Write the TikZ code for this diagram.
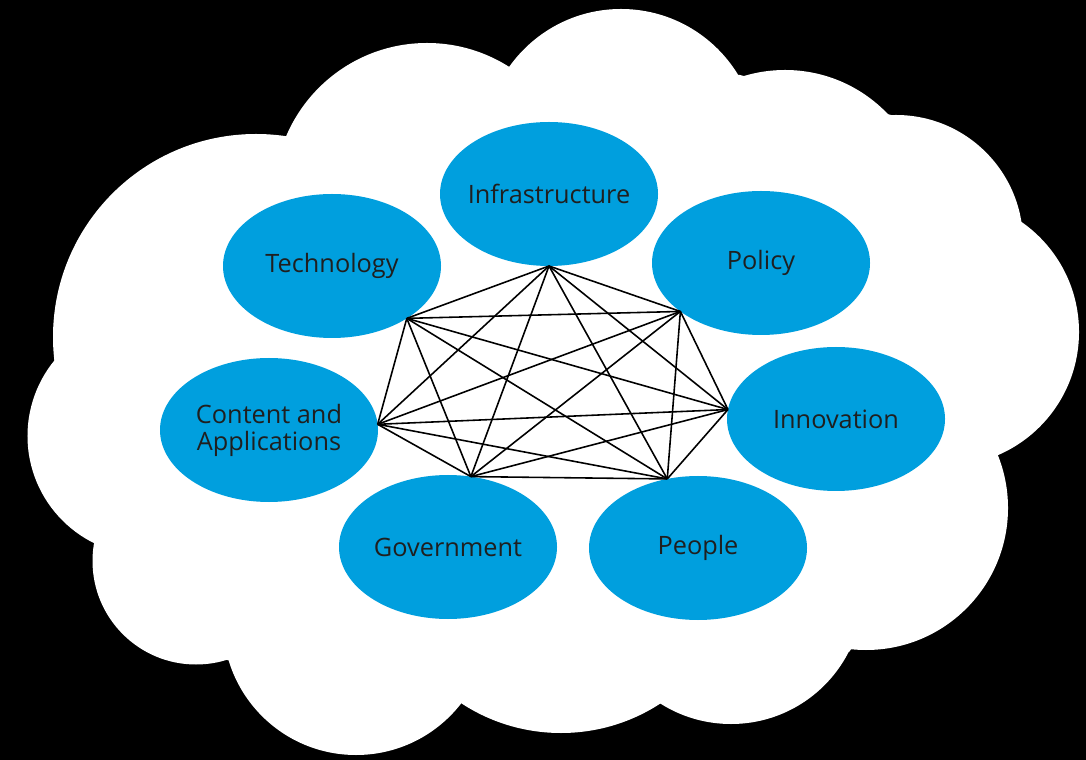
\documentclass[tikz,border=0pt]{standalone}
\usepackage{fontspec}
\setmainfont{Open Sans}
\usetikzlibrary{shapes.geometric}
\definecolor{bubblecolor}{RGB}{0,159,222}
\newcommand{\linkcolor}{black}
\newcommand{\thinline}{0.45pt}
\tikzset{bubble/.style={ellipse, fill=bubblecolor, minimum width=2.18cm, minimum height=1.44cm,
  inner xsep=-2pt, inner ysep=0pt, outer sep=0pt, align=center, text=black!88,
  font=\fontsize{7.2}{7.7}\selectfont}}

\begin{document}
\begin{tikzpicture}
\useasboundingbox (0,0) rectangle (10.86,-7.6);
\fill[black] (0,0) rectangle (10.86,-7.6);
%cloud
\fill[white] (2.86,-1.37) -- (5.11,-0.68) -- (7.40,-0.75) -- (8.91,-1.15) -- (10.21,-2.20) -- (9.95,-4.57)
  -- (8.49,-6.52) -- (6.59,-7.03) -- (4.62,-7.03) -- (2.27,-6.60) -- (0.95,-5.40) -- (0.57,-3.62) -- cycle;
\fill[white] (4.27,-1.96) circle (1.53);
\fill[white] (6.21,-1.46) circle (1.37);
\fill[white] (7.85,-2.12) circle (1.42);
\fill[white] (8.96,-2.42) circle (1.27);
\fill[white] (9.45,-3.32) circle (1.34);
\fill[white] (8.66,-5.08) circle (1.42);
\fill[white] (7.31,-5.92) circle (1.32);
\fill[white] (5.61,-5.51) circle (1.82);
\fill[white] (3.56,-6.22) circle (1.33);
\fill[white] (1.96,-5.61) circle (1.035);
\fill[white] (1.47,-4.36) circle (1.195);
\fill[white] (2.56,-3.37) circle (2.03);
%bubbles
\node[bubble] (1) at (5.49, -1.94) {Infrastructure};
\node[bubble] (2) at (7.61, -2.63) {Policy};
\node[bubble] (3) at (8.36, -4.19) {Innovation};
\node[bubble] (4) at (6.98, -5.48) {People};
\node[bubble] (5) at (4.48, -5.47) {Government};
\node[bubble] (6) at (2.69, -4.30) {Content and\\Applications};
\node[bubble] (7) at (3.32, -2.66) {Technology};
%links
\draw[\linkcolor] [line width = \thinline] (1.south) -- (2.211);
\draw[\linkcolor] [line width = \thinline] (1.south) -- (3.175);
\draw[\linkcolor] [line width = \thinline] (1.south) -- (4.114);
\draw[\linkcolor] [line width = \thinline] (1.south) -- (5.72);
\draw[\linkcolor] [line width = \thinline] (1.south) -- (6.3);
\draw[\linkcolor] [line width = \thinline] (1.south) -- (7.-35);
\draw[\linkcolor] [line width = \thinline] (2.211) -- (3.175);
\draw[\linkcolor] [line width = \thinline] (2.211) -- (4.114);
\draw[\linkcolor] [line width = \thinline] (2.211) -- (5.72);
\draw[\linkcolor] [line width = \thinline] (2.211) -- (6.3);
\draw[\linkcolor] [line width = \thinline] (2.211) -- (7.-35);
\draw[\linkcolor] [line width = \thinline] (3.175) -- (4.114);
\draw[\linkcolor] [line width = \thinline] (3.175) -- (5.72);
\draw[\linkcolor] [line width = \thinline] (3.175) -- (6.3);
\draw[\linkcolor] [line width = \thinline] (3.175) -- (7.-35);
\draw[\linkcolor] [line width = \thinline] (4.114) -- (5.72);
\draw[\linkcolor] [line width = \thinline] (4.114) -- (6.3);
\draw[\linkcolor] [line width = \thinline] (4.114) -- (7.-35);
\draw[\linkcolor] [line width = \thinline] (5.72) -- (6.3);
\draw[\linkcolor] [line width = \thinline] (5.72) -- (7.-35);
\draw[\linkcolor] [line width = \thinline] (6.3) -- (7.-35);
\end{tikzpicture}
\end{document}
